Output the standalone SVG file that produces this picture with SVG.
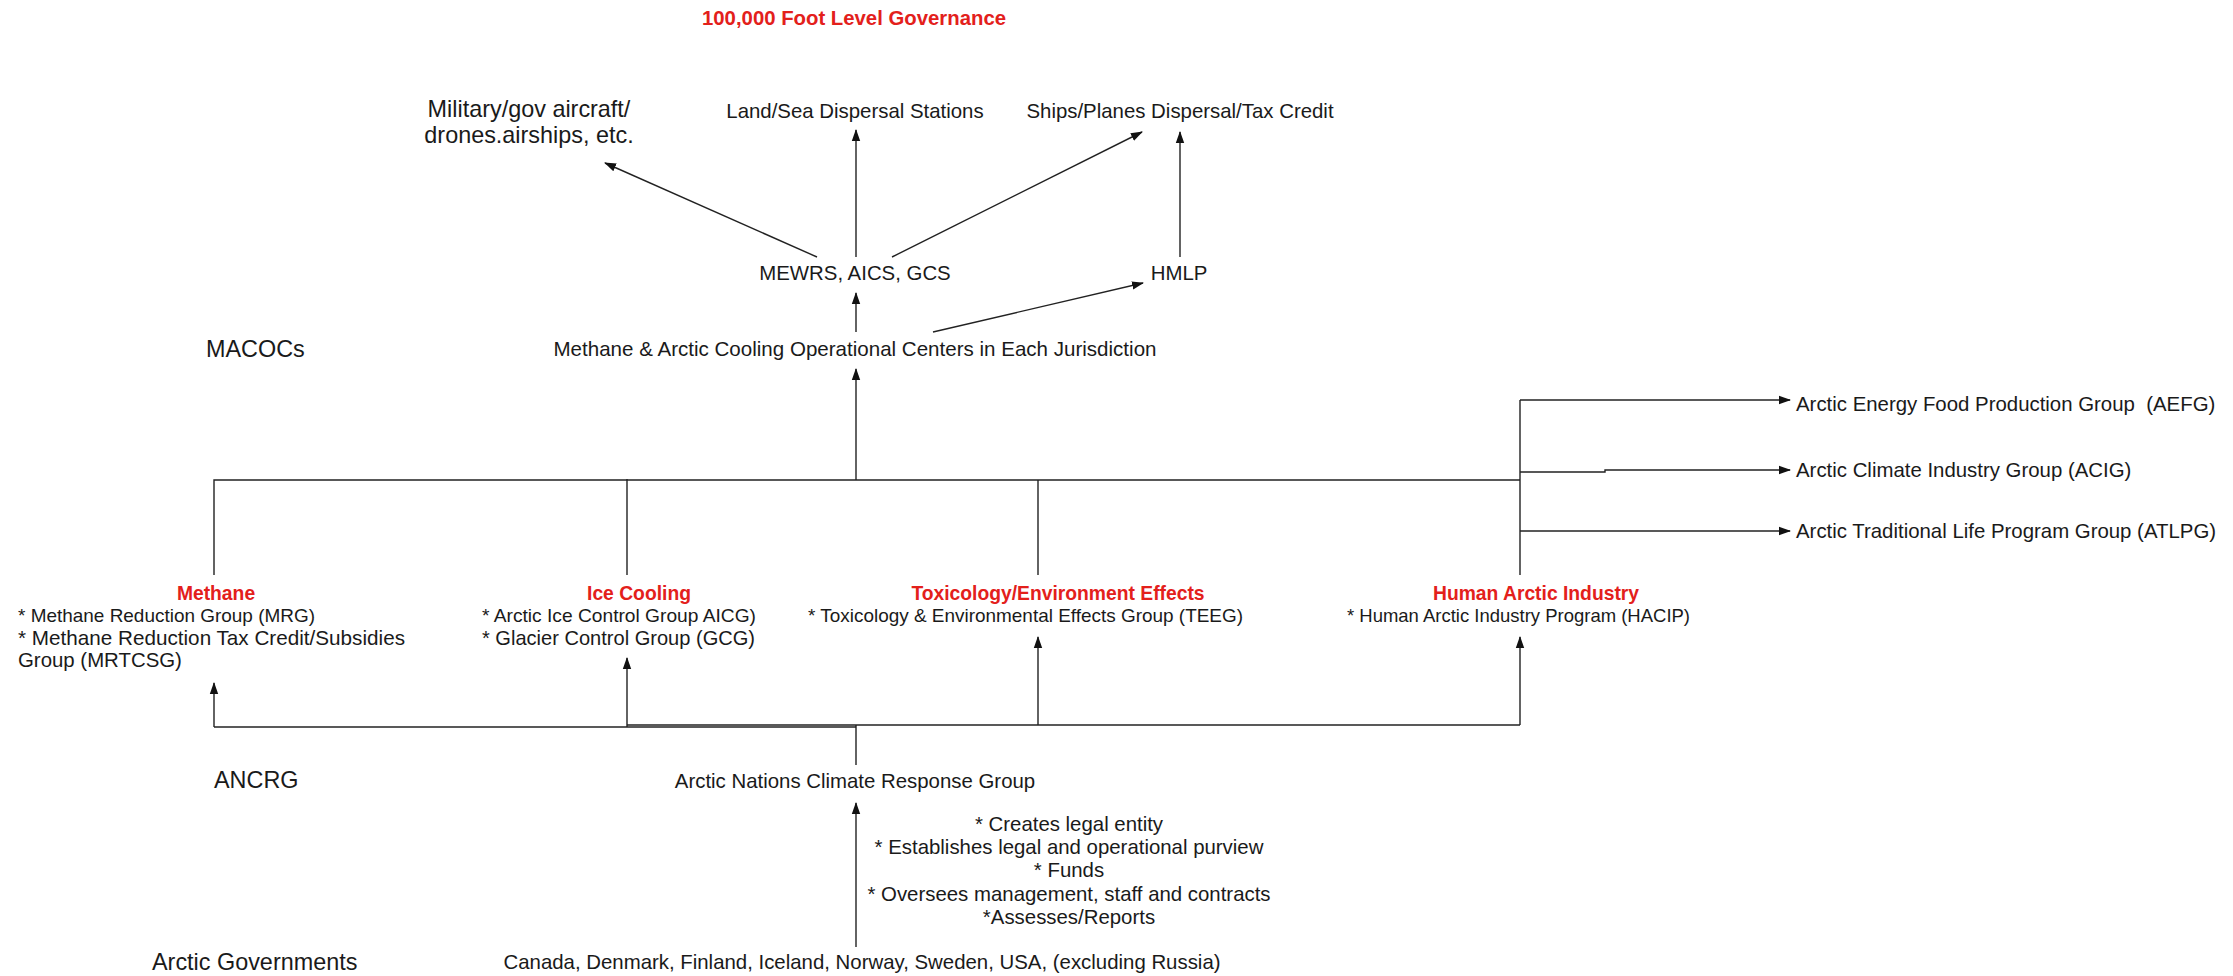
<svg xmlns="http://www.w3.org/2000/svg" width="2233" height="976" viewBox="0 0 2233 976">
<style>
text{font-family:"Liberation Sans",Arial,Helvetica,sans-serif;fill:#1a1a1a;font-size:20.4px}
.big{font-size:23.4px}
.hd{font-weight:bold;fill:#e3201b;font-size:19.3px}
.sm{font-size:19px}
.c{text-anchor:middle}
.ln{fill:none;stroke:#222;stroke-width:1.4}
</style>
<defs>
<marker id="ah" markerUnits="userSpaceOnUse" markerWidth="12" markerHeight="10" viewBox="0 0 12 10" refX="11" refY="5" orient="auto">
<path d="M0,0.8 L12,5 L0,9.2 Z" fill="#111"/>
</marker>
</defs>
<rect width="2233" height="976" fill="#fff"/>
<g id="title"><text class="hd c" x="854" y="25" textLength="304" lengthAdjust="spacingAndGlyphs">100,000 Foot Level Governance</text></g>
<g id="military"><text class="big c" x="529" y="117">Military/gov aircraft/</text><text class="big c" x="529" y="143">drones.airships, etc.</text></g>
<g id="landsea"><text class="c" x="855" y="118">Land/Sea Dispersal Stations</text></g>
<g id="ships"><text class="c" x="1180" y="118">Ships/Planes Dispersal/Tax Credit</text></g>
<g id="mewrs"><text class="c" x="855" y="280">MEWRS, AICS, GCS</text></g>
<g id="hmlp"><text class="c" x="1179" y="280">HMLP</text></g>
<g id="macocs"><text class="big" x="206" y="357">MACOCs</text></g>
<g id="centers"><text class="c" x="855" y="356" textLength="603" lengthAdjust="spacingAndGlyphs">Methane &amp; Arctic Cooling Operational Centers in Each Jurisdiction</text></g>
<g id="aefg"><text x="1796" y="411" style="white-space:pre">Arctic Energy Food Production Group  (AEFG)</text></g>
<g id="acig"><text x="1796" y="477">Arctic Climate Industry Group (ACIG)</text></g>
<g id="atlpg"><text x="1796" y="538">Arctic Traditional Life Program Group (ATLPG)</text></g>
<g id="methane">
<text class="hd c" x="216" y="600">Methane</text>
<text class="sm" x="18" y="622" textLength="297" lengthAdjust="spacingAndGlyphs">* Methane Reduction Group (MRG)</text>
<text x="18" y="645" textLength="387" lengthAdjust="spacingAndGlyphs">* Methane Reduction Tax Credit/Subsidies</text>
<text x="18" y="667">Group (MRTCSG)</text>
</g>
<g id="icecooling">
<text class="hd c" x="639" y="600">Ice Cooling</text>
<text class="sm" x="482" y="622" textLength="274" lengthAdjust="spacingAndGlyphs">* Arctic Ice Control Group AICG)</text>
<text x="482" y="645" textLength="273" lengthAdjust="spacingAndGlyphs">* Glacier Control Group (GCG)</text>
</g>
<g id="toxicology">
<text class="hd c" x="1058" y="600">Toxicology/Environment Effects</text>
<text class="sm" x="808" y="622" textLength="435" lengthAdjust="spacingAndGlyphs">* Toxicology &amp; Environmental Effects Group (TEEG)</text>
</g>
<g id="human">
<text class="hd c" x="1536" y="600">Human Arctic Industry</text>
<text class="sm" x="1347" y="622" textLength="343" lengthAdjust="spacingAndGlyphs">* Human Arctic Industry Program (HACIP)</text>
</g>
<g id="ancrg-label"><text class="big" x="214" y="788">ANCRG</text></g>
<g id="ancrg"><text class="c" x="855" y="788">Arctic Nations Climate Response Group</text></g>
<g id="duties">
<text class="c" x="1069" y="831">* Creates legal entity</text>
<text class="c" x="1069" y="854">* Establishes legal and operational purview</text>
<text class="c" x="1069" y="877">* Funds</text>
<text class="c" x="1069" y="901">* Oversees management, staff and contracts</text>
<text class="c" x="1069" y="924">*Assesses/Reports</text>
</g>
<g id="govlabel"><text class="big" x="152" y="970">Arctic Governments</text></g>
<g id="govs"><text class="c" x="862" y="969">Canada, Denmark, Finland, Iceland, Norway, Sweden, USA, (excluding Russia)</text></g>
<g id="connectors">
<path class="ln" d="M817,257 L605,163" marker-end="url(#ah)"/>
<path class="ln" d="M856,257 V130" marker-end="url(#ah)"/>
<path class="ln" d="M892,257 L1142,132" marker-end="url(#ah)"/>
<path class="ln" d="M1180,257 V132" marker-end="url(#ah)"/>
<path class="ln" d="M856,332 V293" marker-end="url(#ah)"/>
<path class="ln" d="M933,332 L1143,283" marker-end="url(#ah)"/>
<path class="ln" d="M856,480 V369" marker-end="url(#ah)"/>
<path class="ln" d="M214,575 V480 H1520"/>
<path class="ln" d="M627,575 V479"/>
<path class="ln" d="M1038,575 V480"/>
<path class="ln" d="M1520,575 V400"/>
<path class="ln" d="M1520,400 H1790" marker-end="url(#ah)"/>
<path class="ln" d="M1520,472 H1605 V470 H1790" marker-end="url(#ah)"/>
<path class="ln" d="M1520,531 H1790" marker-end="url(#ah)"/>
<path class="ln" d="M214,727 V683" marker-end="url(#ah)"/>
<path class="ln" d="M627,727 V658" marker-end="url(#ah)"/>
<path class="ln" d="M1038,725 V637" marker-end="url(#ah)"/>
<path class="ln" d="M1520,725 V637" marker-end="url(#ah)"/>
<path class="ln" d="M214,727 H856"/>
<path class="ln" d="M627,725 H1520"/>
<path class="ln" d="M856,765 V725"/>
<path class="ln" d="M856,947 V803" marker-end="url(#ah)"/>
</g>
</svg>
